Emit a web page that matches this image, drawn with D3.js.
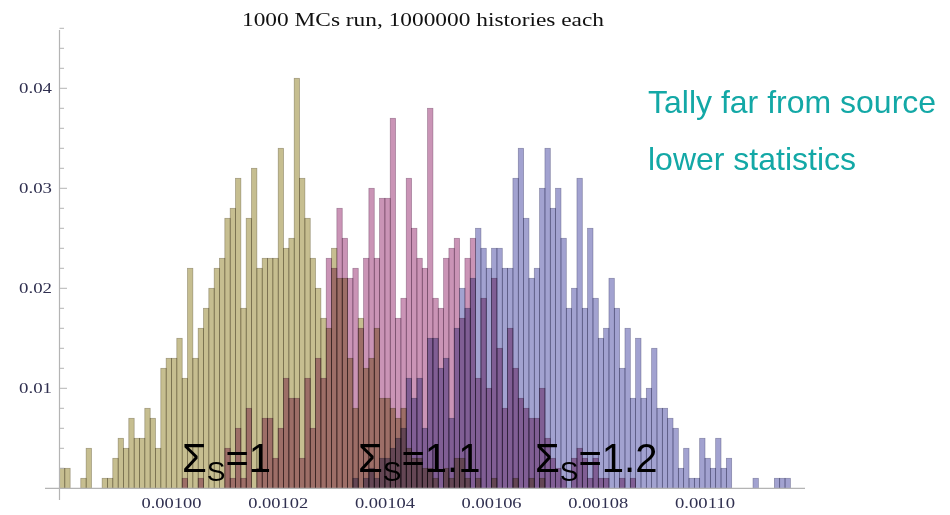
<!DOCTYPE html>
<html>
<head>
<meta charset="utf-8">
<script src="https://cdn.jsdelivr.net/npm/d3@7"></script>
<style>
  html, body { margin: 0; padding: 0; background: #fff; }
  svg { display: block; }
  .bar { mix-blend-mode: multiply; }
</style>
</head>
<body>
<svg id="chart" width="950" height="515"></svg>
<script>
// ---- data (histogram bin counts out of 1000 runs; bin width 1e-6) ----
const binStart = 0.000979;
const binWidth = 0.000001;
const sigma1Counts = [2,2,0,0,1,4,0,0,1,1,3,5,4,7,5,5,8,7,4,12,13,13,15,11,22,13,16,18,20,22,23,27,28,31,18,27,32,22,23,23,23,34,24,25,41,31,27,23,20,17,16,24,21,21,13,8,17,12,13,16,9,9,8,7,8,4,3,3,2,2,1,0,2,1,3,3,1,0,1,0,0,1,0,0,0,1,0,0,1,0,1];
const sigma11Counts = [0,0,0,0,0,0,0,0,0,0,0,0,0,0,0,0,0,0,0,0,0,0,0,1,0,0,1,0,0,0,0,4,1,6,1,8,0,2,7,7,3,6,11,9,9,3,11,6,13,11,23,22,28,25,21,22,16,23,30,23,29,29,37,17,19,31,26,23,22,38,19,18,23,24,25,17,23,25,11,19,10,21,14,8,16,12,9,8,7,7,10,5,3,2,1,0,3,4,3,1,3,1,1,0,0,1,0,1];
const sigma12Counts = [0,0,0,0,0,0,0,0,0,0,0,0,0,0,0,0,0,0,0,0,0,0,0,0,0,0,0,0,0,0,0,0,0,0,0,0,0,0,0,0,0,0,0,0,0,0,0,0,0,0,0,0,0,0,0,1,0,1,2,1,3,3,4,5,6,11,9,11,6,15,15,12,13,7,16,20,18,21,26,24,22,24,24,22,22,31,34,27,21,22,30,34,28,30,25,18,20,31,18,26,19,15,16,21,18,12,16,9,15,9,10,14,8,8,7,6,2,4,1,1,5,3,2,5,2,3,0,0,0,0,1,0,0,0,1,1,1];
const runs = 1000;
const yTicks = [0.01, 0.02, 0.03, 0.04];
const xTicks = [0.00100, 0.00102, 0.00104, 0.00106, 0.00108, 0.00110];
const titleText = "1000 MCs run, 1000000 histories each";
const noteLines = ["Tally far from source", "lower statistics"];
const labelVals = ["1", "1.1", "1.2"];

const series = [
  {counts: sigma1Counts, fill: "rgb(198,190,144)", stroke: "rgb(110,102,70)"},
  {counts: sigma11Counts, fill: "rgb(202,148,182)", stroke: "rgb(115,72,105)"},
  {counts: sigma12Counts, fill: "rgb(162,162,208)", stroke: "rgb(85,85,125)"}
];

const svg = d3.select("#chart");
const x = d3.scaleLinear().domain([0.00100, 0.00110]).range([171.5, 705]);
const y = d3.scaleLinear().domain([0, 0.04]).range([488.3, 88.3]);

// bars
const barLayer = svg.append("g");
series.forEach(s => {
  const bins = s.counts.map((c, i) => ({x0: binStart + i * binWidth, x1: binStart + (i + 1) * binWidth, v: c / runs}))
                        .filter(d => d.v > 0);
  barLayer.append("g").selectAll("rect").data(bins).join("rect")
    .attr("class", "bar")
    .attr("x", d => x(d.x0))
    .attr("width", d => x(d.x1) - x(d.x0))
    .attr("y", d => y(d.v))
    .attr("height", d => y(0) - y(d.v))
    .attr("fill", s.fill)
    .attr("stroke", s.stroke)
    .attr("stroke-opacity", 0.6)
    .attr("stroke-width", 0.7);
});

// axes
const axisColor = "#b4b4b4";
svg.append("line").attr("x1", 45).attr("x2", 805).attr("y1", y(0)).attr("y2", y(0))
  .attr("stroke", axisColor).attr("stroke-width", 1.2);
svg.append("line").attr("x1", 59.5).attr("x2", 59.5).attr("y1", 30).attr("y2", 500)
  .attr("stroke", axisColor).attr("stroke-width", 1.2);

// y ticks (major + minor)
const minor = d3.range(0.002, 0.047, 0.002);
svg.append("g").selectAll("line").data(minor).join("line")
  .attr("x1", 59.5).attr("x2", d => (Math.abs(Math.round(d * 100) - d * 100) < 1e-9) ? 67 : 64)
  .attr("y1", d => y(d)).attr("y2", d => y(d))
  .attr("stroke", axisColor).attr("stroke-width", 1);

const serif = "'Liberation Serif', 'Times New Roman', serif";
svg.append("g").selectAll("text").data(yTicks).join("text")
  .attr("x", 19).attr("y", d => y(d) + 5)
  .attr("font-family", serif)
  .attr("font-size", 14)
  .attr("textLength", 33).attr("lengthAdjust", "spacingAndGlyphs")
  .attr("fill", "#303050")
  .text(d => d3.format(".2f")(d));

svg.append("g").selectAll("text").data(xTicks).join("text")
  .attr("x", d => x(d) - 30).attr("y", 508)
  .attr("font-family", serif)
  .attr("font-size", 14)
  .attr("textLength", 60).attr("lengthAdjust", "spacingAndGlyphs")
  .attr("fill", "#303050")
  .text(d => d3.format(".5f")(d));

// title
svg.append("text").attr("x", 242).attr("y", 26)
  .attr("font-family", serif)
  .attr("font-size", 19)
  .attr("textLength", 362).attr("lengthAdjust", "spacingAndGlyphs")
  .attr("fill", "#111")
  .text(titleText);

// notes
svg.append("g").selectAll("text").data(noteLines).join("text")
  .attr("x", 648).attr("y", (d, i) => 113 + i * 57)
  .attr("font-family", "'Liberation Sans', Arial, sans-serif")
  .attr("font-size", 32)
  .attr("fill", "#13a8a6")
  .text(d => d);

// sigma labels
const labelPos = [182, 358, 535];
labelVals.forEach((v, i) => {
  const t = svg.append("text").attr("x", labelPos[i]).attr("y", 472)
    .attr("font-family", "'Liberation Sans', Arial, sans-serif")
    .attr("font-size", 40).attr("fill", "#000");
  t.append("tspan").text("Σ");
  t.append("tspan").attr("font-size", 28).attr("dy", 9).text("S");
  t.append("tspan").attr("dy", -9).text("=" + v);
});
</script>
</body>
</html>
